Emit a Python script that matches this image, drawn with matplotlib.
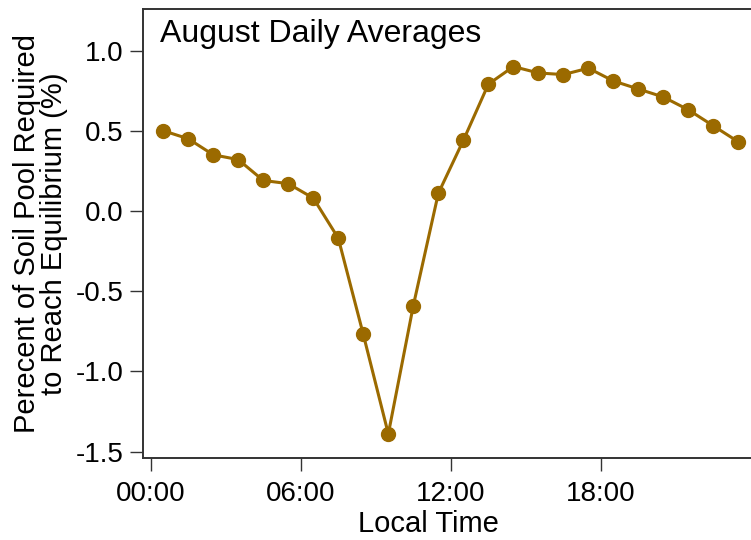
import matplotlib
matplotlib.use("Agg")
import matplotlib.pyplot as plt

# Hourly bins (centre of each hour) and August daily-average values
hours = [0.5, 1.5, 2.5, 3.5, 4.5, 5.5, 6.5, 7.5, 8.5, 9.5, 10.5, 11.5,
         12.5, 13.5, 14.5, 15.5, 16.5, 17.5, 18.5, 19.5, 20.5, 21.5, 22.5, 23.5]
percent = [0.50, 0.45, 0.35, 0.32, 0.19, 0.17, 0.08, -0.17, -0.77, -1.39, -0.59, 0.11,
           0.44, 0.79, 0.90, 0.86, 0.85, 0.89, 0.81, 0.76, 0.71, 0.63, 0.53, 0.43]

xticks = [0, 6, 12, 18]
xticklabels = ["00:00", "06:00", "12:00", "18:00"]
yticks = [-1.5, -1.0, -0.5, 0.0, 0.5, 1.0]

color = "#9b6a00"
spine_col = "#333333"

plt.rcParams["font.family"] = ["Liberation Sans", "DejaVu Sans"]

fig = plt.figure(figsize=(7.51, 5.40), dpi=100)
ax = fig.add_axes([0.19, 0.1513, 0.81, 0.8315])

ax.plot(hours, percent, color=color, lw=2.2, marker="o", ms=10,
        markerfacecolor=color, markeredgecolor=color, zorder=3)

ax.set_xlim(-0.32, 24.0)
ax.set_ylim(-1.542, 1.257)
ax.set_xticks(xticks)
ax.set_xticklabels(xticklabels)
ax.set_yticks(yticks)
ax.set_yticklabels([f"{v:.1f}" for v in yticks])

for side in ("left", "bottom", "top"):
    ax.spines[side].set_color(spine_col)
    ax.spines[side].set_linewidth(1.4)
ax.spines["right"].set_visible(False)

ax.tick_params(axis="both", direction="out", length=9.5, width=1.0,
               color=spine_col, labelsize=20, labelcolor="black")
ax.tick_params(axis="y", pad=4)
ax.tick_params(axis="x", pad=7)

ax.set_xlabel("Local Time", fontsize=21)
ax.xaxis.set_label_coords(0.469, -0.115)
ax.set_ylabel("Perecent of Soil Pool Required\nto Reach Equilibrium (%)",
              fontsize=21, linespacing=0.95, labelpad=6)

ax.text(0.028, 0.978, "August Daily Averages", transform=ax.transAxes,
        fontsize=23, ha="left", va="top")

fig.savefig("out.png", dpi=100)
